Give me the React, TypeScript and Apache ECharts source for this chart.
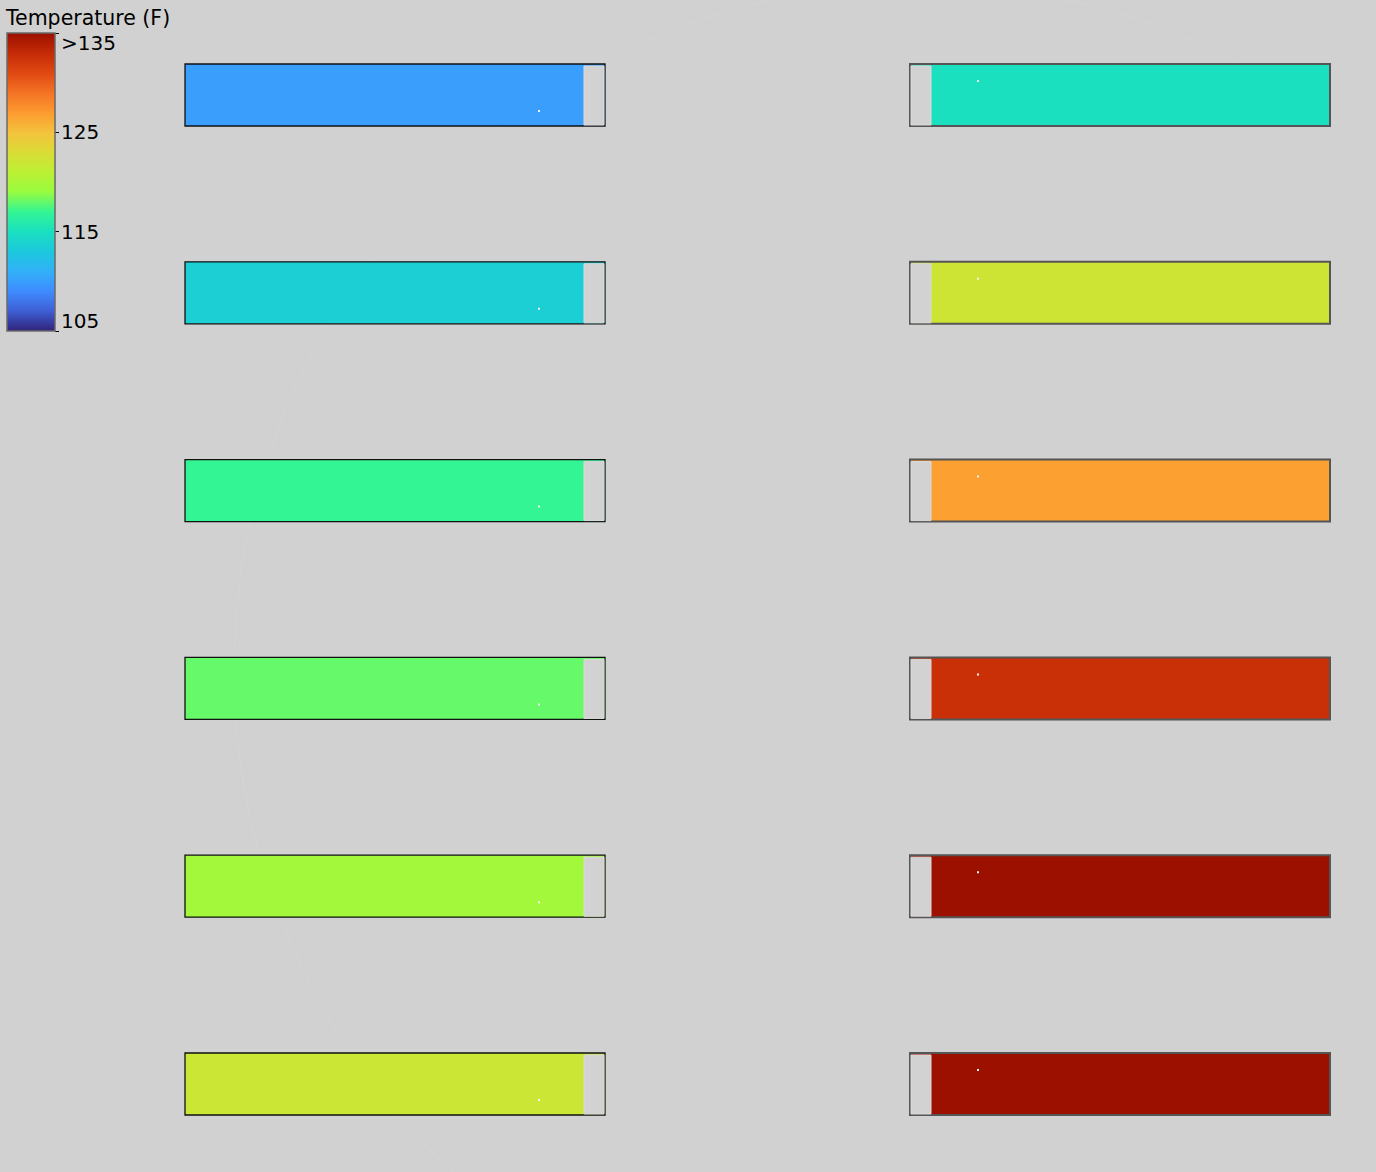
import React, { useEffect, useRef } from "react";
import * as echarts from "echarts";

// ---- data ----
const columns = ["Left", "Right"];
const rows = [0, 1, 2, 3, 4, 5];
const leftTemps = [110.0, 113.6, 117.0, 118.0, 119.6, 122.0];
const rightTemps = [115.0, 122.2, 126.7, 132.6, 137.0, 137.0];

// colour scale (105 .. 135 F, evenly spaced stops)
const scaleMin = 105;
const scaleMax = 135;
const scaleTicks = [105, 115, 125, 135];
const scaleColors = [
  "#30237a", "#3e5ed4", "#3f8cff", "#32b0f8", "#1cc8dc", "#1ae0c0",
  "#34f594", "#98fc40", "#bcf034", "#dadc36", "#f4c23c", "#fd9a30",
  "#f47224", "#e04812", "#c42a06", "#9c1000",
];

const FONT = "DejaVu Sans";

function colorFor(t: number): string {
  const n = Math.max(0, Math.min(1, (t - scaleMin) / (scaleMax - scaleMin)));
  return echarts.color.lerp(n, scaleColors) as string;
}

export default function App() {
  const ref = useRef<HTMLDivElement>(null);
  useEffect(() => {
    document.body.style.margin = "0";
    const chart = echarts.init(ref.current!, null, { renderer: "svg" });

    const barData: number[][] = [];
    rows.forEach((r, i) => {
      barData.push([0, r, leftTemps[i]]);
      barData.push([1, r, rightTemps[i]]);
    });

    const option: any = {
      animation: false,
      backgroundColor: "#d1d1d1",
      title: {
        text: "Temperature (F)",
        left: 6,
        top: 7,
        padding: 0,
        textStyle: { fontSize: 20.5, fontWeight: "normal", color: "#000", fontFamily: FONT },
      },
      graphic: [
        {
          type: "circle",
          z: 0,
          silent: true,
          shape: { cx: 920, cy: 670, r: 686 },
          style: { fill: "none", stroke: "#d5d5d5", lineWidth: 1 },
        },
      ],
      grid: [
        { left: 177.5, width: 1160, top: 6, height: 1157.1 },
        { left: 7, top: 33, width: 48, height: 298 },
      ],
      xAxis: [
        { type: "value", min: -0.3, max: 1.3, show: false, gridIndex: 0 },
        { type: "category", data: ["scale"], show: false, gridIndex: 1 },
      ],
      yAxis: [
        { type: "value", inverse: true, min: -0.45, max: 5.4, show: false, gridIndex: 0 },
        {
          type: "value",
          gridIndex: 1,
          min: scaleMin,
          max: scaleMax,
          interval: 10,
          position: "right",
          splitLine: { show: false },
          axisLine: { show: false },
          axisTick: { show: true, length: 4, lineStyle: { color: "#000", width: 1 } },
          axisLabel: {
            fontSize: 20,
            color: "#000",
            fontFamily: FONT,
            margin: 6,
            verticalAlignMaxLabel: "top",
            verticalAlignMinLabel: "bottom",
            formatter: (v: number) =>
              v === scaleTicks[scaleTicks.length - 1] ? ">" + v : String(v),
          },
        },
      ],
      series: [
        {
          type: "custom",
          name: "bars",
          xAxisIndex: 0,
          yAxisIndex: 0,
          data: barData,
          renderItem: (params: any, api: any) => {
            const col = api.value(0);
            const row = api.value(1);
            const temp = api.value(2);
            const [cx, cy] = api.coord([col, row]);
            const [sx, sy] = api.size([1, 1]);
            const w = 0.5793 * sx;
            const h = 0.3134 * sy;
            const x0 = cx - w / 2;
            const y0 = cy - h / 2;
            const inset = 0.0276 * sx;
            const isLeft = col === 0;
            return {
              type: "group",
              children: [
                {
                  type: "rect",
                  shape: { x: x0, y: y0, width: w, height: h },
                  style: {
                    fill: colorFor(temp),
                    stroke: isLeft ? "#111111" : "#555555",
                    lineWidth: isLeft ? 1.3 : 2,
                  },
                },
                {
                  type: "rect",
                  shape: {
                    x: isLeft ? x0 + w - inset - 1 : x0 + 1,
                    y: y0 + 2,
                    width: inset,
                    height: h - 3,
                  },
                  style: { fill: "#d2d2d2", stroke: "#dadada", lineWidth: 1 },
                },
                {
                  type: "rect",
                  shape: {
                    x: cx + (isLeft ? 143 : -143),
                    y: cy + (isLeft ? 15 : -15),
                    width: 2,
                    height: 2,
                  },
                  style: { fill: "#f2f2f2" },
                },
              ],
            };
          },
        },
        {
          type: "custom",
          name: "scale",
          xAxisIndex: 1,
          yAxisIndex: 1,
          data: [[0, scaleMin, scaleMax]],
          renderItem: (params: any, api: any) => {
            const top = api.coord([0, api.value(2)]);
            const bottom = api.coord([0, api.value(1)]);
            const bw = api.size([1, 0])[0];
            const stops = scaleColors.map((c, i) => ({
              offset: 1 - i / (scaleColors.length - 1),
              color: c,
            }));
            return {
              type: "rect",
              shape: { x: top[0] - bw / 2, y: top[1], width: bw, height: bottom[1] - top[1] },
              style: {
                fill: new echarts.graphic.LinearGradient(0, 0, 0, 1, stops.slice().reverse()),
                stroke: "#6a6a6a",
                lineWidth: 1.5,
              },
            };
          },
        },
      ],
    };
    chart.setOption(option);
    return () => chart.dispose();
  }, []);
  return <div ref={ref} style={{ width: 1376, height: 1172 }} />;
}
